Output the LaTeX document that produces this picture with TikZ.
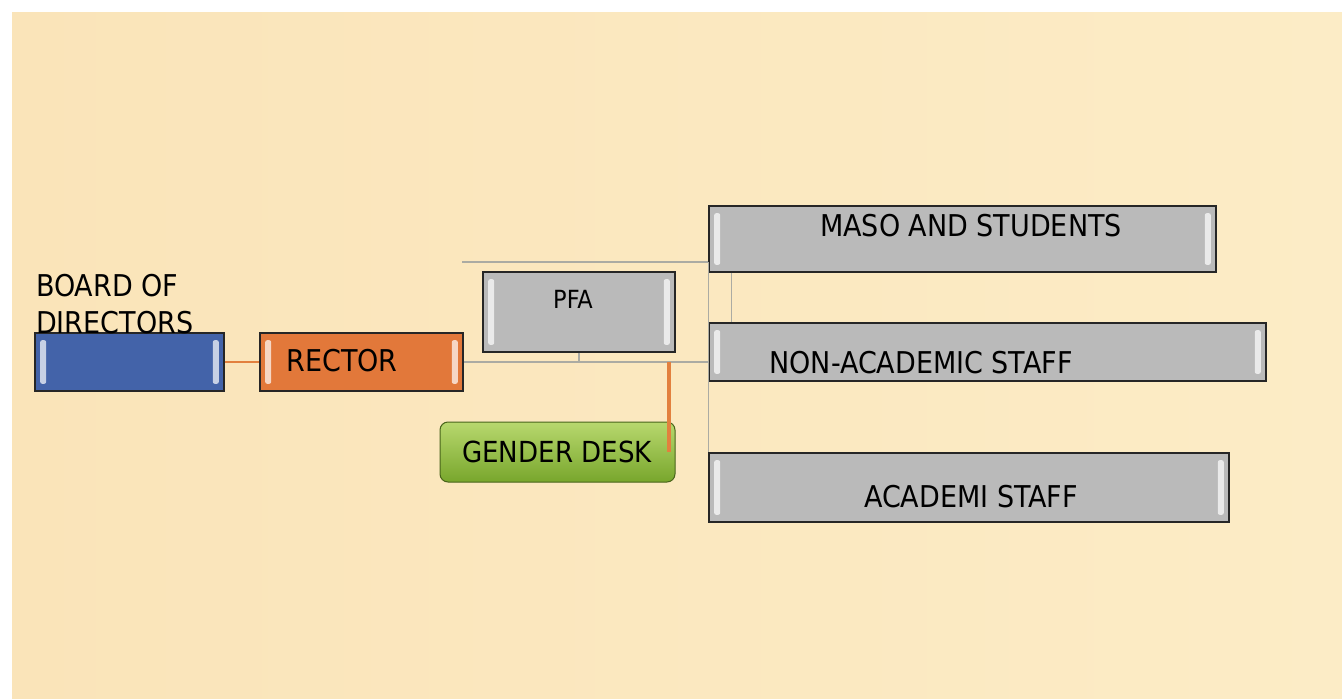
\documentclass[tikz,border=0pt]{standalone}
\usepackage{fontspec}
\setmainfont{DejaVu Sans Condensed}
\usetikzlibrary{calc}
\definecolor{bgbeige}{HTML}{FAE4B9}
\definecolor{bgbeige2}{HTML}{FCECC6}
\definecolor{boxblue}{HTML}{4363A9}
\definecolor{boxorange}{HTML}{E2783A}
\definecolor{boxgrey}{HTML}{BABABA}
\definecolor{greentop}{HTML}{B8D86E}
\definecolor{greenbot}{HTML}{78A62C}
\definecolor{connorange}{HTML}{E2803E}
\definecolor{conngrey}{HTML}{ABABA3}
\tikzset{
  box/.style={draw=black!85, line width=1.6pt, inner sep=0pt},
  greybox/.style={box, fill=boxgrey},
  conn/.style={draw=conngrey, line width=1.3pt},
  oline/.style={draw=connorange, line width=2.5pt},
  othick/.style={draw=connorange, line width=4pt},
  lbl/.style={inner sep=0pt, font=\fontsize{30}{36}\selectfont, text=black},
  gloss/.style={fill=white, opacity=0.7, rounded corners=2pt, draw=none}
}
\newcommand\hlstrips[1]{%
  \path[gloss] ($(#1.north west)+(6,8)$) rectangle ($(#1.south west)+(12,-8)$);
  \path[gloss] ($(#1.north east)+(-12,8)$) rectangle ($(#1.south east)+(-6,-8)$);
}
\begin{document}
\begin{tikzpicture}[x=1pt,y=-1pt]
\useasboundingbox (0,0) rectangle (1342,699);
\fill[white] (0,0) rectangle (1342,699);
\shade[left color=bgbeige, right color=bgbeige2] (12,12) rectangle (1342,699);

% boxes
\node[box, fill=boxblue, minimum width=189pt, minimum height=58pt] (board) at (129.5,362) {};
\node[box, fill=boxorange, minimum width=203pt, minimum height=58pt] (rector) at (361.5,362) {};
\node[greybox, minimum width=192pt, minimum height=80pt] (pfa) at (579,312) {};
\node[box, draw=greenbot!60!black, line width=1pt, rounded corners=8pt, top color=greentop, bottom color=greenbot, minimum width=235pt, minimum height=60pt] (gender) at (557.5,452) {};
\node[greybox, minimum width=507pt, minimum height=66pt] (maso) at (962.5,239) {};
\node[greybox, minimum width=557pt, minimum height=58pt] (non) at (987.5,352) {};
\node[greybox, minimum width=520pt, minimum height=69pt] (acad) at (969,487.5) {};

\hlstrips{board}
\hlstrips{rector}
\hlstrips{pfa}
\hlstrips{maso}
\hlstrips{non}
\hlstrips{acad}

% connectors
\coordinate (c1) at (462,262);
\coordinate (g1) at ($(gender.east)+(-7,0)$);
\draw[oline] (board.east) -- (rector.west);
\draw[conn] (c1) -- (c1 -| maso.west);
\draw[conn] (rector.east) -- (rector.east -| non.west);
\draw[conn] (pfa.south) -- (pfa.south |- rector.east);
\draw[conn] (c1 -| maso.west) -- (acad.north west);
\draw[conn] ($(maso.south west)+(23,0)$) -- ($(non.north west)+(23,0)$);
\draw[othick] (g1 |- rector.east) -- (g1);

% labels
\node[lbl, anchor=west, align=left, font=\fontsize{30}{37}\selectfont] (boardt) at (36,304) {BOARD OF\\DIRECTORS};
\node[lbl] (rectort) at (342,361) {RECTOR};
\node[lbl, font=\fontsize{25}{30}\selectfont] (pfat) at (573,299) {PFA};
\node[lbl, font=\fontsize{29}{34}\selectfont] (gendert) at (557,452) {GENDER DESK};
\node[lbl] (masot) at (971,226) {MASO AND STUDENTS};
\node[lbl] (nont) at (921,363) {NON-ACADEMIC STAFF};
\node[lbl] (acadt) at (971,497) {ACADEMI STAFF};
\end{tikzpicture}
\end{document}
